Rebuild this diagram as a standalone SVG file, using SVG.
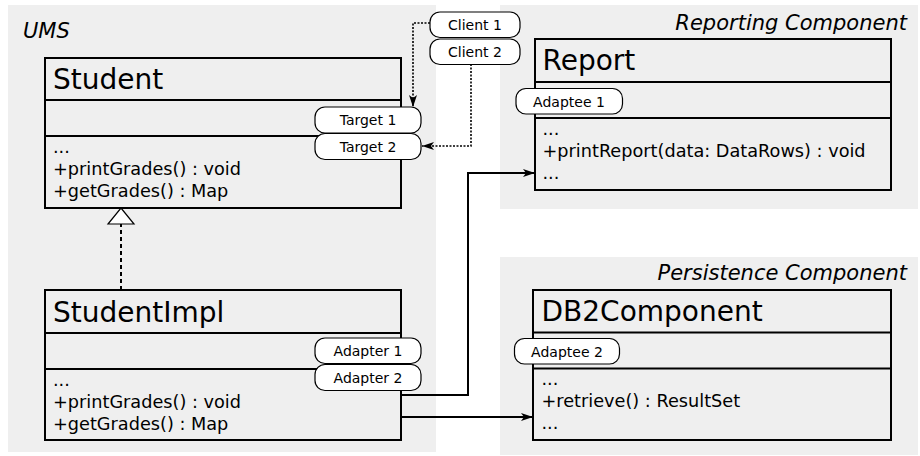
<svg xmlns="http://www.w3.org/2000/svg" width="920" height="456" viewBox="0 0 920 456">
<style>
.bg{fill:#efefef;stroke:none}
.box{fill:none;stroke:#000;stroke-width:2}
.sep{stroke:#000;stroke-width:2}
.pill{fill:#fff;stroke:#000;stroke-width:1.2}
.hdr{font-family:"DejaVu Sans",sans-serif;font-size:28px;fill:#000}
.mem{font-family:"DejaVu Sans",sans-serif;font-size:17.7px;fill:#000}
.pt{font-family:"DejaVu Sans",sans-serif;font-size:14px;fill:#000;text-anchor:middle}
.lbl{font-family:"DejaVu Sans",sans-serif;font-size:21px;font-style:italic;fill:#000}
.solid{fill:none;stroke:#000;stroke-width:2}
.dot{fill:none;stroke:#000;stroke-width:1.6;stroke-dasharray:2 1.5}
.dash{fill:none;stroke:#000;stroke-width:2;stroke-dasharray:4 3}
</style>
<defs>
<marker id="arr" viewBox="0 0 12 8" markerWidth="12" markerHeight="8" refX="12" refY="4" orient="auto" markerUnits="userSpaceOnUse">
<path d="M0,0 L12,4 L0,8 L3,4 Z" fill="#000"/>
</marker>
</defs>
<g id="areas">
<rect class="bg" x="8" y="5" width="428" height="447"/>
<rect class="bg" x="500" y="5" width="418" height="204"/>
<rect class="bg" x="500" y="257" width="418" height="198"/>
<text class="lbl" x="23" y="38">UMS</text>
<text class="lbl" x="907" y="29.5" text-anchor="end">Reporting Component</text>
<text class="lbl" x="907" y="279.5" text-anchor="end">Persistence Component</text>
</g>
<g id="connectors">
<path class="dot" d="M430,23 H413 V107" marker-end="url(#arr)"/>
<path class="dot" d="M471,64 V146 H422" marker-end="url(#arr)"/>
<path class="solid" d="M401,395 H468 V173 H535" marker-end="url(#arr)"/>
<path class="solid" d="M401,417 H533" marker-end="url(#arr)"/>
<path class="dash" d="M121,290 V224"/>
<polygon points="108,224 134,224 121,208" fill="#fff" stroke="#000" stroke-width="1.2"/>
</g>
<g id="Student">
<rect class="box" x="45" y="58" width="356" height="150"/>
<line class="sep" x1="45" y1="100" x2="401" y2="100"/>
<line class="sep" x1="45" y1="136" x2="401" y2="136"/>
<text class="hdr" x="53" y="89">Student</text>
<text class="mem" x="53" y="153">...</text>
<text class="mem" x="53" y="175">+printGrades() : void</text>
<text class="mem" x="53" y="197">+getGrades() : Map</text>
</g>
<g id="StudentImpl">
<rect class="box" x="45" y="290" width="356" height="150"/>
<line class="sep" x1="45" y1="333" x2="401" y2="333"/>
<line class="sep" x1="45" y1="369" x2="401" y2="369"/>
<text class="hdr" x="53" y="321.5">StudentImpl</text>
<text class="mem" x="53" y="386">...</text>
<text class="mem" x="53" y="408">+printGrades() : void</text>
<text class="mem" x="53" y="430">+getGrades() : Map</text>
</g>
<g id="Report">
<rect class="box" x="535" y="39" width="356" height="151"/>
<line class="sep" x1="535" y1="82" x2="891" y2="82"/>
<line class="sep" x1="535" y1="118" x2="891" y2="118"/>
<text class="hdr" x="542.5" y="70">Report</text>
<text class="mem" x="542.5" y="135">...</text>
<text class="mem" x="542.5" y="157">+printReport(data: DataRows) : void</text>
<text class="mem" x="542.5" y="179">...</text>
</g>
<g id="DB2Component">
<rect class="box" x="533" y="290" width="358" height="150"/>
<line class="sep" x1="533" y1="332.5" x2="891" y2="332.5"/>
<line class="sep" x1="533" y1="368.5" x2="891" y2="368.5"/>
<text class="hdr" x="541.5" y="321">DB2Component</text>
<text class="mem" x="541.5" y="385">...</text>
<text class="mem" x="541.5" y="407">+retrieve() : ResultSet</text>
<text class="mem" x="541.5" y="429">...</text>
</g>
<g id="Client1"><rect class="pill" x="430" y="12" width="90" height="25.5" rx="10"/><text class="pt" x="475" y="30">Client 1</text></g>
<g id="Client2"><rect class="pill" x="430" y="39" width="90" height="25.5" rx="10"/><text class="pt" x="475" y="57">Client 2</text></g>
<g id="Target1"><rect class="pill" x="315" y="107" width="106" height="26" rx="10"/><text class="pt" x="368" y="125">Target 1</text></g>
<g id="Target2"><rect class="pill" x="315" y="133.5" width="106" height="26" rx="10"/><text class="pt" x="368" y="151.5">Target 2</text></g>
<g id="Adapter1"><rect class="pill" x="315" y="338" width="106" height="25.5" rx="10"/><text class="pt" x="368" y="356">Adapter 1</text></g>
<g id="Adapter2"><rect class="pill" x="315" y="364.5" width="106" height="26" rx="10"/><text class="pt" x="368" y="382.5">Adapter 2</text></g>
<g id="Adaptee1"><rect class="pill" x="516" y="88.5" width="106.5" height="25.5" rx="10"/><text class="pt" x="569" y="106.5">Adaptee 1</text></g>
<g id="Adaptee2"><rect class="pill" x="514.5" y="338.5" width="105" height="25.5" rx="10"/><text class="pt" x="567" y="356.5">Adaptee 2</text></g>
</svg>
